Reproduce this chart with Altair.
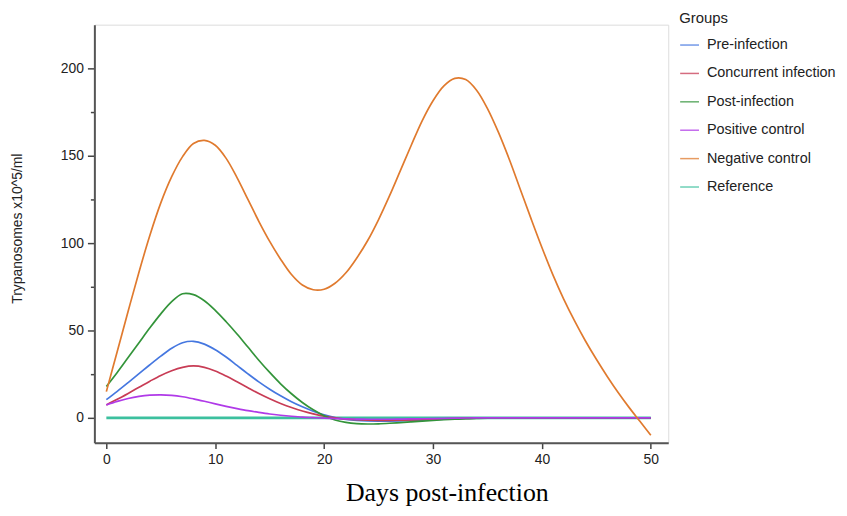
import altair as alt
import pandas as pd

groups = ["Pre-infection", "Concurrent infection", "Post-infection",
          "Positive control", "Negative control", "Reference"]
colors = ["#4577e0", "#c83c55", "#33943a", "#b03ae8", "#e07a2e", "#3cc09e"]

# days for the four treated groups
days = list(range(0, 36)) + [40, 45, 50]

pre_vals = [10.4, 15.2, 20.2, 25.3, 30.4, 35.3, 39.8, 43, 43.8, 42.2, 39, 34.8, 30, 25.2,
            20.6, 16.4, 12.6, 9.2, 6.3, 3.8, 1.7, 0.1, -0.9, -1.5, -1.8, -1.9, -1.85, -1.7,
            -1.5, -1.25, -1.0, -0.75, -0.5, -0.3, -0.15, -0.05, 0, 0, 0]

conc_vals = [7.4, 10.6, 14, 17.5, 21, 24.3, 27, 28.9, 29.7, 28.9, 26.8, 23.9, 20.6, 17.2,
             13.9, 10.9, 8.2, 5.9, 3.9, 2.3, 1.0, 0, -0.7, -1.1, -1.35, -1.45, -1.4, -1.3,
             -1.15, -1.0, -0.8, -0.6, -0.45, -0.3, -0.15, -0.05, 0, 0, 0]

post_vals = [18, 26, 34.5, 43, 51.5, 59.5, 66.5, 71, 70.5, 67, 61.5, 55, 48, 40.5, 33, 26,
             19.5, 13.8, 8.8, 4.6, 1.2, -1.2, -2.6, -3.3, -3.5, -3.4, -3.1, -2.7, -2.3, -1.9,
             -1.5, -1.1, -0.8, -0.5, -0.3, -0.15, 0, 0, 0]

pos_vals = [7.4, 9.4, 11.1, 12.3, 13.0, 13.2, 12.9, 12.1, 10.9, 9.5, 8.0, 6.6, 5.3, 4.1,
            3.1, 2.2, 1.5, 0.9, 0.4, 0.1, -0.2, -0.4, -0.6, -0.7, -0.8, -0.8, -0.8, -0.7,
            -0.6, -0.5, -0.4, -0.3, -0.2, -0.1, -0.05, 0, 0, 0, 0]

neg_days = list(range(0, 51))
neg_vals = [15, 38, 61, 83.5, 104.5, 123, 138, 149.5, 157, 158.8, 156, 148.5, 137.5, 125,
            112.5, 101, 90.8, 82, 76, 73.3, 73.6, 77, 83, 91.5, 101.5, 113.5, 127, 141.5, 156,
            170, 181.5, 190, 194.3, 193.6, 187.5, 177, 163.5, 148, 131, 114, 97.5, 82, 68,
            55.5, 44, 33.5, 23.7, 14.5, 6, -2, -10]

ref_days = [0, 10, 20, 30, 40, 50]
ref_vals = [0, 0, 0, 0, 0, 0]

series = [
    ("Pre-infection", days, pre_vals),
    ("Concurrent infection", days, conc_vals),
    ("Post-infection", days, post_vals),
    ("Positive control", days, pos_vals),
    ("Negative control", neg_days, neg_vals),
]
rows = []
for g, ds, vs in series:
    for d, v in zip(ds, vs):
        rows.append({"day": d, "value": v, "group": g})
df = pd.DataFrame(rows)
df_ref = pd.DataFrame({"day": ref_days, "value": ref_vals, "group": "Reference"})

color = alt.Color(
    "group:N",
    scale=alt.Scale(domain=groups, range=colors),
    legend=alt.Legend(
        title="Groups", orient="none", legendX=589, legendY=-14,
        titleFont="Liberation Sans", titleFontSize=15, titleFontWeight="normal",
        titleColor="#222", titlePadding=9,
        labelFont="Liberation Sans", labelFontSize=14.5, labelColor="#222",
        labelOffset=7, symbolType="stroke", symbolSize=360, symbolStrokeWidth=1.5,
        symbolOpacity=0.75, rowPadding=11.6, padding=0, labelLimit=300,
    ),
)

x = alt.X(
    "day:Q",
    scale=alt.Scale(domain=[-1.1, 51.6], nice=False, zero=False),
    axis=alt.Axis(
        values=[0, 10, 20, 30, 40, 50], grid=False, title="Days post-infection",
        titleFont="Liberation Serif", titleFontSize=26, titleFontWeight="normal",
        titleColor="#000", titleX=355, titleY=58, titleAlign="center",
        titleBaseline="alphabetic",
        labelFont="Liberation Sans", labelFontSize=14, labelColor="#222",
        labelPadding=4, tickSize=6, tickColor="#444", tickWidth=1.5,
        domainColor="#555", domainWidth=2,
    ),
)
y = alt.Y(
    "value:Q",
    scale=alt.Scale(domain=[-14.2, 225], nice=False, zero=False),
    axis=alt.Axis(
        values=[0, 25, 50, 75, 100, 125, 150, 175, 200], grid=False,
        labelExpr="datum.value % 50 === 0 ? datum.label : ''",
        tickSize={"condition": {"test": "datum.value % 50 === 0", "value": 7}, "value": 4},
        title="Trypanosomes x10^5/ml",
        titleFont="Liberation Sans", titleFontSize=14, titleFontWeight="normal",
        titleColor="#222", titleX=-77, titleY=205, titleAlign="center",
        titleBaseline="middle",
        labelFont="Liberation Sans", labelFontSize=14, labelColor="#222",
        labelPadding=4, tickColor="#444", tickWidth=1.5,
        domainColor="#555", domainWidth=2,
    ),
)

ref = alt.Chart(df_ref).mark_line(strokeWidth=2.6).encode(
    x=x, y=y, color=color
)
lines = alt.Chart(df).mark_line(strokeWidth=1.7, interpolate="catmull-rom").encode(
    x=x, y=y, color=color, detail="group:N"
)

chart = alt.layer(ref, lines).properties(
    width=578, height=421,
    autosize=alt.AutoSizeParams(type="none"),
    padding={"left": 87, "top": 15, "right": 172, "bottom": 64},
).configure_view(stroke="#333", strokeWidth=1.5).configure(background="white")

chart.save("out.html", embed_options={"renderer": "svg", "actions": False})
